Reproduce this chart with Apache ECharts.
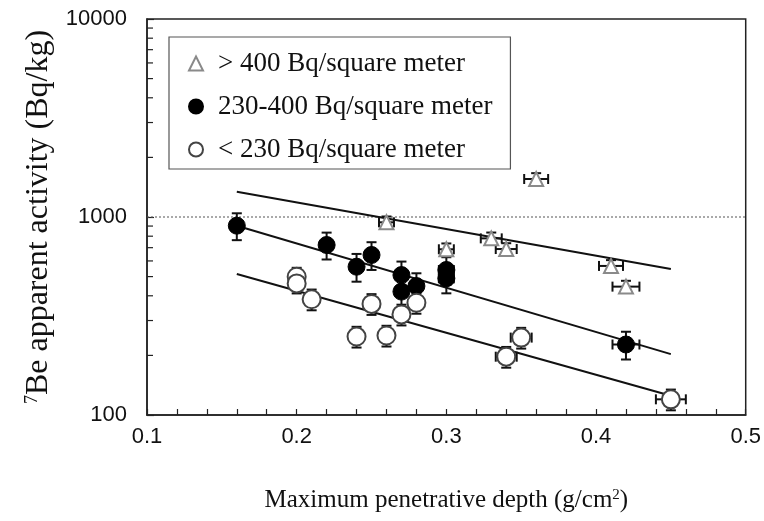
<!DOCTYPE html>
<html>
<head>
<meta charset="utf-8">
<script src="https://cdn.jsdelivr.net/npm/echarts@6/dist/echarts.min.js"></script>
<style>
  html, body { margin: 0; padding: 0; background: #fff; }
  #chart { width: 764px; height: 521px; }
</style>
</head>
<body>
<div id="chart"></div>
<script>
// > 400 Bq/square meter (triangles)
const highX = [0.26, 0.30, 0.33, 0.34, 0.36, 0.41, 0.42];
const highY = [940, 687, 780, 689, 1556, 566, 445];
const highErrY = [0.07, 0.07, 0.07, 0.07, 0.07, 0.07, 0.07];
const highErrX = [0.005, 0.005, 0.007, 0.007, 0.008, 0.008, 0.009];

// 230-400 Bq/square meter (filled circles)
const midX = [0.16, 0.22, 0.24, 0.25, 0.27, 0.27, 0.28, 0.30, 0.30, 0.42];
const midY = [904, 722, 561, 643, 509, 420, 448, 540, 490, 227];
const midErrY = [0.155, 0.155, 0.16, 0.16, 0.17, 0.17, 0.16, 0.16, 0.16, 0.16];
const midErrX = [0.004, 0.004, 0.004, 0.004, 0.004, 0.004, 0.004, 0.005, 0.005, 0.009];

// < 230 Bq/square meter (open circles)
const lowX = [0.20, 0.20, 0.21, 0.24, 0.25, 0.26, 0.27, 0.28, 0.34, 0.35, 0.45];
const lowY = [499, 462, 384, 249, 364, 252, 322, 369, 197, 246, 120];
const lowErrY = [0.11, 0.11, 0.12, 0.12, 0.12, 0.12, 0.12, 0.12, 0.12, 0.12, 0.12];
const lowErrX = [0.004, 0.004, 0.004, 0.004, 0.004, 0.004, 0.004, 0.004, 0.007, 0.007, 0.01];

// regression lines (end points)
const fitX = [0.16, 0.45];
const fitHigh = [1342, 546];
const fitMid = [904, 203];
const fitLow = [515, 125];

const legendNames = ['> 400 Bq/square meter', '230-400 Bq/square meter', '< 230 Bq/square meter'];
const yMinorTicks = [200, 300, 400, 500, 600, 700, 800, 900, 2000, 3000, 4000, 5000, 6000, 7000, 8000, 9000];

const serif = 'Liberation Serif, Times New Roman, serif';
const sans = 'Liberation Sans, Arial, sans-serif';

function pts(xs, ys) {
  return xs.map((x, i) => [x, ys[i]]);
}
function errPts(xs, ys, ey, ex) {
  return xs.map((x, i) => [x, ys[i], ey[i], ex[i]]);
}

function renderErr(params, api) {
  const x = api.value(0), y = api.value(1), ey = api.value(2), ex = api.value(3);
  const c = api.coord([x, y]);
  const top = api.coord([x, y * (1 + ey)]);
  const bot = api.coord([x, y * (1 - ey)]);
  const l = api.coord([x - ex, y]);
  const r = api.coord([x + ex, y]);
  const cap = 5;
  const style = { stroke: '#111', lineWidth: 2 };
  return {
    type: 'group',
    children: [
      { type: 'line', shape: { x1: c[0], y1: top[1], x2: c[0], y2: bot[1] }, style },
      { type: 'line', shape: { x1: c[0] - cap, y1: top[1], x2: c[0] + cap, y2: top[1] }, style },
      { type: 'line', shape: { x1: c[0] - cap, y1: bot[1], x2: c[0] + cap, y2: bot[1] }, style },
      { type: 'line', shape: { x1: l[0], y1: c[1], x2: r[0], y2: c[1] }, style },
      { type: 'line', shape: { x1: l[0], y1: c[1] - cap, x2: l[0], y2: c[1] + cap }, style },
      { type: 'line', shape: { x1: r[0], y1: c[1] - cap, x2: r[0], y2: c[1] + cap }, style }
    ]
  };
}

function errSeries(data) {
  return {
    type: 'custom',
    renderItem: renderErr,
    data: data,
    encode: { x: 0, y: 1 },
    z: 2,
    silent: true
  };
}

function fitSeries(ys) {
  return {
    type: 'line',
    data: pts(fitX, ys),
    symbol: 'none',
    lineStyle: { color: '#111', width: 2 },
    z: 1,
    silent: true
  };
}

const chart = echarts.init(document.getElementById('chart'));
chart.setOption({
  animation: false,
  backgroundColor: '#fff',
  grid: {
    left: 147,
    right: 17,
    top: 19,
    bottom: 106,
    show: true,
    borderColor: '#222',
    borderWidth: 1.5
  },
  legend: {
    data: legendNames,
    orient: 'vertical',
    left: 169,
    top: 37,
    padding: [13, 18, 6, 19],
    itemGap: 16,
    itemWidth: 14,
    itemHeight: 14,
    backgroundColor: '#fff',
    borderColor: '#555',
    borderWidth: 1.2,
    textStyle: { fontFamily: serif, fontSize: 27, color: '#111', padding: [0, 0, 0, 10] }
  },
  xAxis: {
    type: 'value',
    min: 0.1,
    max: 0.5,
    interval: 0.1,
    name: 'Maximum penetrative depth (g/cm{sup|2})',
    nameLocation: 'middle',
    nameGap: 73,
    nameTextStyle: {
      fontFamily: serif, fontSize: 25, color: '#111',
      rich: { sup: { fontFamily: serif, fontSize: 15, verticalAlign: 'top', color: '#111' } }
    },
    axisLine: { show: true, lineStyle: { color: '#222', width: 1.5 } },
    axisTick: { show: true, inside: true, length: 6, lineStyle: { color: '#222', width: 1.2 } },
    minorTick: { show: true, splitNumber: 5, length: 6, lineStyle: { color: '#222', width: 1.2 } },
    axisLabel: {
      fontFamily: sans, fontSize: 22, color: '#111', margin: 11,
      formatter: v => v.toFixed(1)
    },
    splitLine: { show: false }
  },
  yAxis: {
    type: 'log',
    logBase: 10,
    min: 100,
    max: 10000,
    name: '{sup|7}Be apparent activity (Bq/kg)',
    nameLocation: 'middle',
    nameGap: 91,
    nameRotate: 90,
    nameTextStyle: {
      fontFamily: serif, fontSize: 32, color: '#111',
      rich: { sup: { fontFamily: serif, fontSize: 18, verticalAlign: 'top', color: '#111' } }
    },
    axisLine: { show: true, lineStyle: { color: '#222', width: 1.5 } },
    axisTick: { show: true, inside: true, length: 7, lineStyle: { color: '#222', width: 1.2 } },
    minorTick: { show: false },
    axisLabel: {
      fontFamily: sans, fontSize: 22, color: '#111', margin: 20,
      formatter: v => String(Math.round(v))
    },
    splitLine: { show: false }
  },
  series: [
    {
      type: 'line',
      data: pts([0.1, 0.5], [1000, 1000]),
      symbol: 'none',
      lineStyle: { color: '#555', width: 1, type: [2, 2] },
      z: 1,
      silent: true
    },
    {
      // log-axis minor ticks
      type: 'custom',
      data: yMinorTicks.map(v => [0.1, v]),
      encode: { x: 0, y: 1 },
      renderItem: (params, api) => {
        const p = api.coord([api.value(0), api.value(1)]);
        return {
          type: 'line',
          shape: { x1: p[0], y1: p[1], x2: p[0] + 6, y2: p[1] },
          style: { stroke: '#222', lineWidth: 1.2 }
        };
      },
      silent: true
    },
    fitSeries(fitHigh),
    fitSeries(fitMid),
    fitSeries(fitLow),
    errSeries(errPts(highX, highY, highErrY, highErrX)),
    errSeries(errPts(midX, midY, midErrY, midErrX)),
    errSeries(errPts(lowX, lowY, lowErrY, lowErrX)),
    {
      name: legendNames[0],
      type: 'scatter',
      data: pts(highX, highY),
      symbol: 'triangle',
      symbolSize: 14,
      itemStyle: { color: '#fff', borderColor: '#8a8a8a', borderWidth: 2, opacity: 1 },
      z: 5
    },
    {
      name: legendNames[1],
      type: 'scatter',
      data: pts(midX, midY),
      symbol: 'circle',
      symbolSize: 17,
      itemStyle: { color: '#000', borderColor: '#000', borderWidth: 1, opacity: 1 },
      z: 5
    },
    {
      name: legendNames[2],
      type: 'scatter',
      data: pts(lowX, lowY),
      symbol: 'circle',
      symbolSize: 18,
      itemStyle: { color: '#fff', borderColor: '#444', borderWidth: 2, opacity: 1 },
      z: 5
    }
  ]
});
</script>
</body>
</html>
